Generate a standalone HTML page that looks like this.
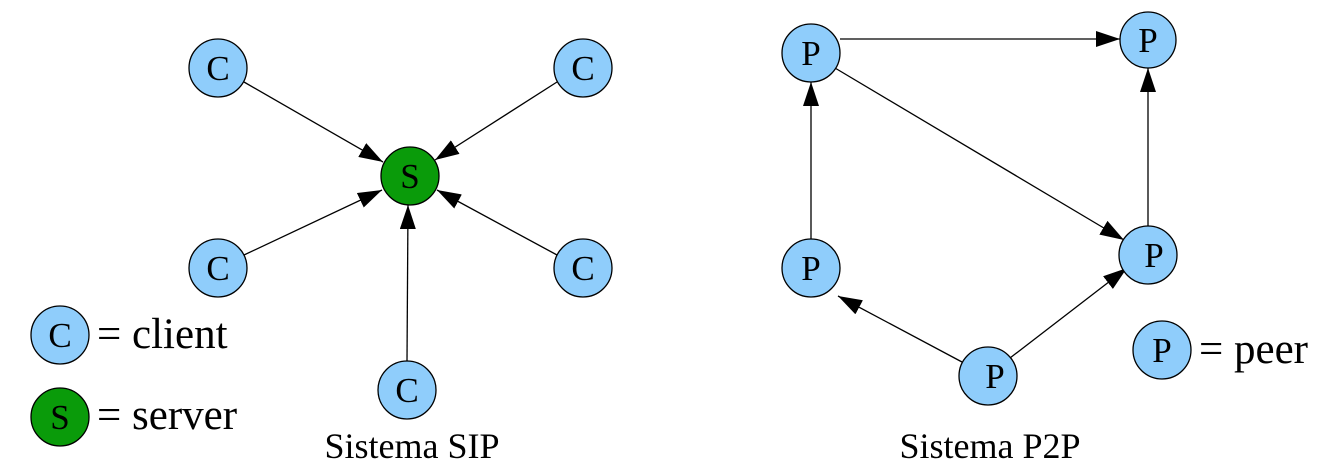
<!DOCTYPE html>
<html><head><meta charset="utf-8"><style>body{margin:0;background:#fff}svg{display:block}</style></head><body>
<svg width="1320" height="468" viewBox="0 0 1320 468" xmlns="http://www.w3.org/2000/svg" font-family="'Liberation Serif',serif">
<defs><marker id="a" viewBox="0 0 24 16" refX="24" refY="8" markerWidth="24" markerHeight="16" markerUnits="userSpaceOnUse" orient="auto"><path d="M0,0L24,8L0,16z" fill="#000"/></marker></defs>
<g stroke="#000" stroke-width="1.3" marker-end="url(#a)">
<line x1="244" y1="82" x2="383" y2="162"/>
<line x1="557" y1="82" x2="435" y2="160"/>
<line x1="244" y1="255" x2="382" y2="190"/>
<line x1="557" y1="255" x2="437" y2="190"/>
<line x1="407" y1="361" x2="408" y2="205"/>
<line x1="840" y1="39" x2="1120" y2="39"/>
<line x1="835" y1="68" x2="1124" y2="240"/>
<line x1="811" y1="240" x2="811" y2="82"/>
<line x1="1148" y1="227" x2="1148" y2="68"/>
<line x1="962" y1="362" x2="838" y2="296"/>
<line x1="1010" y1="358" x2="1127" y2="268"/>
</g>
<g stroke="#000" stroke-width="1.3" fill="#8fcdfb">
<circle cx="218" cy="68" r="29"/><circle cx="583" cy="68" r="29"/>
<circle cx="218" cy="268" r="29"/><circle cx="583" cy="268" r="29"/>
<circle cx="407" cy="390" r="29"/><circle cx="60" cy="335" r="29"/>
<circle cx="811" cy="53" r="29"/><circle cx="1148" cy="40" r="28"/>
<circle cx="811" cy="268" r="29"/><circle cx="1148" cy="255" r="29"/>
<circle cx="988" cy="376" r="29"/><circle cx="1162" cy="350" r="29"/>
<circle cx="410" cy="176" r="29" fill="#0a9b0a"/><circle cx="60" cy="417" r="29" fill="#0a9b0a"/>
</g>
<g font-size="35" text-anchor="middle" fill="#000">
<text x="218" y="80">C</text><text x="583" y="80">C</text>
<text x="218" y="280">C</text><text x="583" y="280">C</text>
<text x="407" y="402">C</text><text x="60" y="347">C</text>
<text x="410" y="188">S</text><text x="60" y="429">S</text>
<text x="811" y="65">P</text><text x="1148" y="52">P</text>
<text x="811" y="280">P</text><text x="1154" y="267">P</text>
<text x="995" y="388">P</text><text x="1162" y="362">P</text>
</g>
<g font-size="43" fill="#000">
<text x="97" y="348">= client</text>
<text x="97" y="429">= server</text>
<text x="1199" y="363">= peer</text>
</g>
<g font-size="36" fill="#000" text-anchor="middle">
<text x="412" y="458">Sistema SIP</text>
<text x="990" y="458">Sistema P2P</text>
</g>
</svg>
</body></html>
